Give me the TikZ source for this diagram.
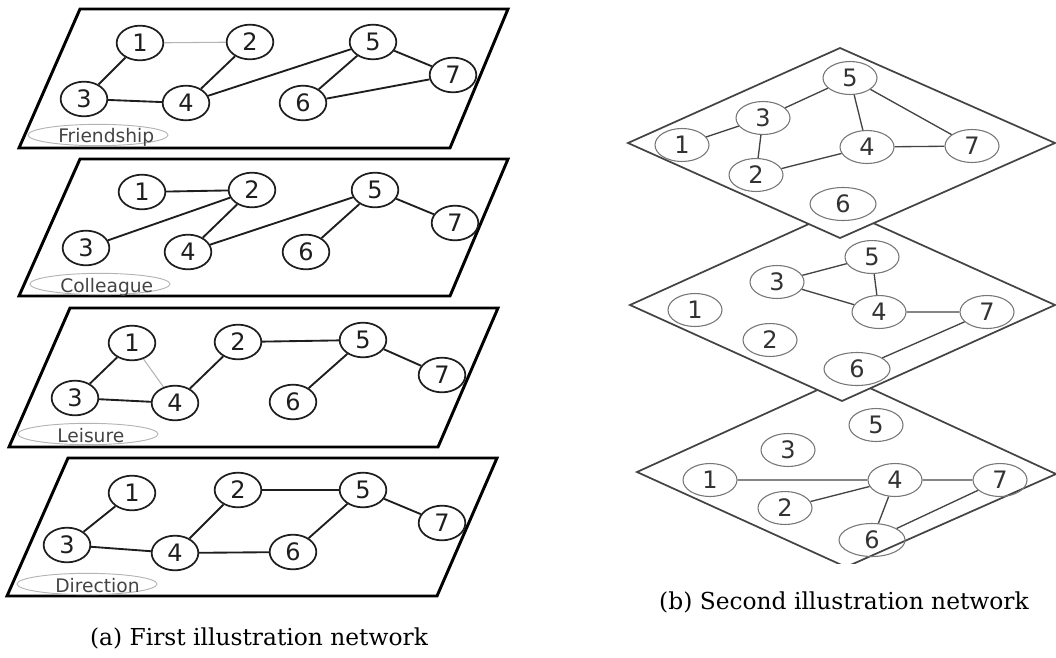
\documentclass[tikz,border=0pt]{standalone}
\usepackage{fontspec}
\setmainfont{DejaVu Serif}
\newfontfamily\graphfont{DejaVu Sans}
\usetikzlibrary{shapes.geometric}
\definecolor{ink}{HTML}{1E1E1E}
\definecolor{faint}{HTML}{B4B4B4}
\definecolor{greyink}{HTML}{444444}
\definecolor{greynode}{HTML}{777777}
\tikzset{
  slab/.style={draw=black, line width=2.2pt, line join=miter},
  vtx/.style={ellipse, draw=ink, line width=1.3pt, minimum width=35pt, minimum height=26pt,
    inner sep=0pt, font=\graphfont\fontsize{18}{18}\selectfont, text=ink},
  tie/.style={draw=ink, line width=1.4pt},
  weaktie/.style={draw=faint, line width=0.8pt},
  relname/.style={ellipse, draw=faint, line width=0.7pt, minimum width=105pt, minimum height=16pt, inner sep=0pt},
  reltext/.style={anchor=base west, inner sep=0pt, font=\graphfont\fontsize{14}{14}\selectfont, text=greyink},
  sheet/.style={draw=greyink, line width=1.3pt, fill=white, line join=miter},
  dvtx/.style={ellipse, draw=greynode, line width=0.8pt, minimum width=40.5pt, minimum height=24.75pt,
    inner sep=0pt, font=\graphfont\fontsize{18}{18}\selectfont, text=black!80},
  widevtx/.style={minimum width=49.5pt},
  dtie/.style={draw=greyink, line width=1pt},
  captext/.style={font=\fontsize{17.5}{17.5}\selectfont, inner sep=0pt}
}
\begin{document}
\begin{tikzpicture}[x=0.75pt,y=-0.75pt]
\useasboundingbox (0,0) rectangle (1056,657);
\clip (0,0) rectangle (1056,657);

% ---------- (a) four relation layers ----------
% Friendship
\draw[slab] (80,9) -- (508,9) -- (450,148) -- (19,148) -- cycle;
\node[vtx] (f1) at (140,43) {1};
\node[vtx] (f2) at (250,42) {2};
\node[vtx] (f5) at (373,42) {5};
\node[vtx] (f7) at (453,75) {7};
\node[vtx] (f3) at (84,99) {3};
\node[vtx] (f4) at (186,103) {4};
\node[vtx] (f6) at (303,103) {6};
\draw[weaktie] (f1) -- (f2);
\draw[tie] (f1) -- (f3) (f3) -- (f4) (f2) -- (f4) (f4) -- (f5) (f5) -- (f6) (f5) -- (f7) (f6) -- (f7);
\node[relname] (fe) at (98,135) {};
\node[reltext] (ft) at (58,142) {Friendship};

% Colleague
\draw[slab] (80,159) -- (508,159) -- (450,296) -- (19,296) -- cycle;
\node[vtx] (c1) at (142,192) {1};
\node[vtx] (c2) at (252,190) {2};
\node[vtx] (c5) at (375,190) {5};
\node[vtx] (c7) at (455,223) {7};
\node[vtx] (c3) at (86,248) {3};
\node[vtx] (c4) at (188,252) {4};
\node[vtx] (c6) at (306,252) {6};
\draw[tie] (c1) -- (c2) (c2) -- (c3) (c2) -- (c4) (c4) -- (c5) (c5) -- (c6) (c5) -- (c7);
\node[relname] (ce) at (100,284) {};
\node[reltext] (ct) at (60,292) {Colleague};

% Leisure
\draw[slab] (70,308) -- (498,308) -- (438,447) -- (9,447) -- cycle;
\node[vtx] (l1) at (132,343) {1};
\node[vtx] (l2) at (238,342) {2};
\node[vtx] (l5) at (363,340) {5};
\node[vtx] (l7) at (442,375) {7};
\node[vtx] (l3) at (75,398) {3};
\node[vtx] (l4) at (175,403) {4};
\node[vtx] (l6) at (293,402) {6};
\draw[weaktie] (l1) -- (l4);
\draw[tie] (l1) -- (l3) (l3) -- (l4) (l2) -- (l4) (l2) -- (l5) (l5) -- (l6) (l5) -- (l7);
\node[relname] (le) at (88,434) {};
\node[reltext] (lt) at (57,442) {Leisure};

% Direction
\draw[slab] (68,458) -- (497,458) -- (437,596) -- (7,596) -- cycle;
\node[vtx] (d1) at (132,493) {1};
\node[vtx] (d2) at (238,490) {2};
\node[vtx] (d5) at (363,490) {5};
\node[vtx] (d7) at (442,523) {7};
\node[vtx] (d3) at (67,545) {3};
\node[vtx] (d4) at (175,553) {4};
\node[vtx] (d6) at (293,552) {6};
\draw[tie] (d1) -- (d3) (d3) -- (d4) (d2) -- (d4) (d2) -- (d5) (d4) -- (d6) (d5) -- (d6) (d5) -- (d7);
\node[relname] (de) at (87,584) {};
\node[reltext] (dt) at (55,592) {Direction};

\node[captext] (capa) at (259,638) {(a) First illustration network};

% ---------- (b) stacked diamond layers, bottom first ----------
\begin{scope}
  \clip (600,300) rectangle (1056,563);
  \draw[sheet] (637,472) -- (846,377) -- (1056,474) -- (846,567) -- cycle;
\end{scope}
\node[dvtx] (r5) at (876,425) {5};
\node[dvtx] (r3) at (788,450) {3};
\node[dvtx] (r1) at (710,480) {1};
\node[dvtx] (r4) at (895,480) {4};
\node[dvtx] (r7) at (1000,480) {7};
\node[dvtx] (r2) at (785,508) {2};
\node[dvtx,widevtx] (r6) at (872,540) {6};
\draw[dtie] (r1) -- (r4) (r2) -- (r4) (r4) -- (r7) (r4) -- (r6) (r7) -- (r6);

\draw[sheet] (630,305) -- (842,209) -- (1055,305) -- (842,401) -- cycle;
\node[dvtx] (q5) at (872,257) {5};
\node[dvtx] (q3) at (777,282) {3};
\node[dvtx] (q1) at (695,310) {1};
\node[dvtx] (q4) at (879,312) {4};
\node[dvtx] (q7) at (987,312) {7};
\node[dvtx] (q2) at (770,340) {2};
\node[dvtx,widevtx] (q6) at (857,369) {6};
\draw[dtie] (q3) -- (q5) (q3) -- (q4) (q5) -- (q4) (q4) -- (q7) (q7) -- (q6);

\draw[sheet] (628,143) -- (840,48) -- (1055,143) -- (840,238) -- cycle;
\node[dvtx] (p5) at (850,78) {5};
\node[dvtx] (p3) at (763,118) {3};
\node[dvtx] (p1) at (682,145) {1};
\node[dvtx] (p4) at (867,147) {4};
\node[dvtx] (p7) at (972,146) {7};
\node[dvtx] (p2) at (756,175) {2};
\node[dvtx,widevtx] (p6) at (843,204) {6};
\draw[dtie] (p1) -- (p3) (p3) -- (p5) (p3) -- (p2) (p2) -- (p4) (p5) -- (p4) (p5) -- (p7) (p4) -- (p7);

\node[captext] (capb) at (844,602) {(b) Second illustration network};
\end{tikzpicture}
\end{document}
